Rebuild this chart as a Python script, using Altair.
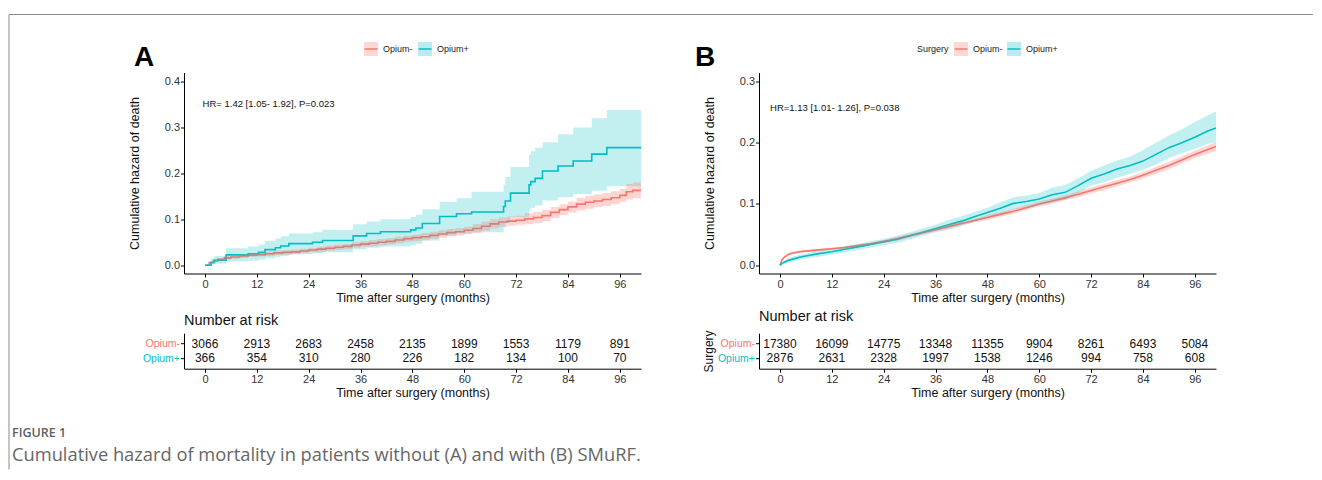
import altair as alt
import pandas as pd

RED = "#F8766D"
CYAN = "#00BFC4"
FONT = "Liberation Sans"
GROUPS = ["Opium-", "Opium+"]
RISK_TIMES = [0, 12, 24, 36, 48, 60, 72, 84, 96]

# ---------------- Panel A (without SMuRF) ----------------
a_neg_t = [0, 1, 2, 3, 4.5, 6, 8, 10, 12, 14, 16, 18, 20, 22, 24, 26, 28, 30, 32, 34, 36, 38, 40, 42, 44, 46,
           48, 50, 52, 54, 56, 58, 60, 62, 64, 66, 68, 70, 72, 74, 76, 78, 80, 82, 84, 86, 88, 90, 92, 94, 96,
           97.5, 99, 100.9]
a_neg_v = [0, 0.006, 0.010, 0.013, 0.016, 0.018, 0.020, 0.022, 0.023, 0.025, 0.027, 0.028, 0.029, 0.031, 0.033,
           0.035, 0.037, 0.039, 0.041, 0.044, 0.046, 0.048, 0.050, 0.052, 0.055, 0.058, 0.060, 0.062, 0.065, 0.068,
           0.071, 0.073, 0.076, 0.080, 0.085, 0.090, 0.094, 0.096, 0.098, 0.101, 0.104, 0.108, 0.115, 0.121, 0.127,
           0.133, 0.137, 0.140, 0.143, 0.147, 0.152, 0.160, 0.163, 0.163]
a_neg_lo = [0, 0.004, 0.007, 0.010, 0.012, 0.014, 0.016, 0.018, 0.019, 0.020, 0.022, 0.023, 0.024, 0.026, 0.028,
            0.029, 0.031, 0.033, 0.035, 0.038, 0.040, 0.041, 0.043, 0.045, 0.048, 0.051, 0.053, 0.054, 0.057, 0.060,
            0.063, 0.065, 0.068, 0.070, 0.075, 0.080, 0.084, 0.086, 0.088, 0.089, 0.092, 0.096, 0.103, 0.109, 0.115,
            0.119, 0.123, 0.126, 0.129, 0.133, 0.138, 0.143, 0.146, 0.146]
a_neg_up = [0, 0.008, 0.013, 0.016, 0.020, 0.022, 0.024, 0.026, 0.027, 0.030, 0.032, 0.033, 0.034, 0.036, 0.038,
            0.041, 0.043, 0.045, 0.047, 0.050, 0.052, 0.055, 0.057, 0.059, 0.062, 0.065, 0.067, 0.070, 0.073, 0.076,
            0.079, 0.081, 0.084, 0.090, 0.095, 0.100, 0.104, 0.106, 0.108, 0.113, 0.116, 0.120, 0.127, 0.133, 0.139,
            0.147, 0.151, 0.154, 0.157, 0.161, 0.166, 0.177, 0.180, 0.180]

a_pos_t = [0, 1.4, 2.2, 4.9, 10.0, 12.4, 13.9, 16.3, 17.5, 19.4, 24.9, 27.2, 34.3, 37.4, 40.6, 47.6, 48.8, 50.3,
           54.3, 58.2, 61.7, 69.1, 69.5, 70.7, 75.0, 75.4, 76.4, 78.1, 81.7, 85.2, 89.5, 93.0, 100.9]
a_pos_v = [0, 0.006, 0.011, 0.0225, 0.025, 0.028, 0.034, 0.038, 0.042, 0.047, 0.050, 0.054, 0.064, 0.069, 0.073,
           0.077, 0.081, 0.091, 0.106, 0.112, 0.116, 0.128, 0.140, 0.157, 0.175, 0.182, 0.189, 0.205, 0.216, 0.227,
           0.242, 0.256, 0.256]
a_pos_lo = [0, 0.001, 0.003, 0.008, 0.010, 0.012, 0.015, 0.018, 0.020, 0.024, 0.026, 0.028, 0.035, 0.038, 0.041,
            0.044, 0.047, 0.054, 0.065, 0.069, 0.072, 0.082, 0.092, 0.105, 0.120, 0.125, 0.130, 0.141, 0.148, 0.155,
            0.162, 0.172, 0.172]
a_pos_up = [0, 0.014, 0.020, 0.037, 0.041, 0.045, 0.053, 0.058, 0.063, 0.069, 0.072, 0.077, 0.089, 0.095, 0.100,
            0.105, 0.110, 0.122, 0.138, 0.146, 0.160, 0.176, 0.192, 0.214, 0.240, 0.248, 0.256, 0.268, 0.285, 0.300,
            0.320, 0.338, 0.338]

a_risk_neg = [3066, 2913, 2683, 2458, 2135, 1899, 1553, 1179, 891]
a_risk_pos = [366, 354, 310, 280, 226, 182, 134, 100, 70]
a_hr = "HR= 1.42 [1.05- 1.92], P=0.023"

# ---------------- Panel B (with SMuRF) ----------------
b_t = [0, 0.5, 1, 2, 3, 4.5, 6, 9, 12, 15, 18, 21, 24, 27, 30, 33, 36, 39, 42, 45, 48, 51, 54, 57, 60, 63, 66,
       69, 72, 75, 78, 81, 84, 87, 90, 93, 96, 99, 100.9]
b_neg_v = [0, 0.009, 0.013, 0.018, 0.020, 0.022, 0.023, 0.025, 0.027, 0.029, 0.032, 0.035, 0.039, 0.043, 0.048,
           0.053, 0.058, 0.063, 0.068, 0.073, 0.078, 0.083, 0.088, 0.094, 0.100, 0.105, 0.110, 0.116, 0.122, 0.128,
           0.134, 0.140, 0.147, 0.155, 0.163, 0.172, 0.181, 0.189, 0.194]
b_neg_lo = [0, 0.008, 0.012, 0.016, 0.018, 0.020, 0.021, 0.023, 0.025, 0.027, 0.030, 0.033, 0.037, 0.040, 0.045,
            0.050, 0.055, 0.060, 0.065, 0.070, 0.074, 0.079, 0.084, 0.090, 0.096, 0.101, 0.106, 0.111, 0.117, 0.123,
            0.129, 0.135, 0.142, 0.149, 0.157, 0.166, 0.175, 0.182, 0.187]
b_neg_up = [0, 0.010, 0.014, 0.020, 0.022, 0.024, 0.025, 0.027, 0.029, 0.031, 0.034, 0.037, 0.041, 0.046, 0.051,
            0.056, 0.061, 0.066, 0.071, 0.076, 0.082, 0.087, 0.092, 0.098, 0.104, 0.109, 0.114, 0.121, 0.127, 0.133,
            0.139, 0.145, 0.152, 0.161, 0.169, 0.178, 0.187, 0.196, 0.201]
b_pos_v = [0, 0.003, 0.005, 0.008, 0.010, 0.013, 0.015, 0.019, 0.022, 0.026, 0.030, 0.034, 0.038, 0.042, 0.048,
           0.054, 0.060, 0.066, 0.072, 0.079, 0.086, 0.093, 0.101, 0.104, 0.108, 0.115, 0.119, 0.130, 0.142, 0.149,
           0.157, 0.163, 0.170, 0.181, 0.192, 0.200, 0.209, 0.219, 0.224]
b_pos_lo = [0, 0.001, 0.002, 0.004, 0.006, 0.009, 0.011, 0.014, 0.017, 0.021, 0.025, 0.029, 0.033, 0.036, 0.042,
            0.048, 0.054, 0.058, 0.064, 0.071, 0.078, 0.083, 0.091, 0.094, 0.098, 0.103, 0.107, 0.118, 0.130, 0.135,
            0.143, 0.149, 0.156, 0.164, 0.175, 0.183, 0.190, 0.198, 0.201]
b_pos_up = [0, 0.005, 0.008, 0.012, 0.014, 0.017, 0.019, 0.024, 0.027, 0.031, 0.035, 0.039, 0.043, 0.048, 0.054,
            0.060, 0.066, 0.074, 0.080, 0.087, 0.094, 0.103, 0.111, 0.114, 0.118, 0.127, 0.131, 0.142, 0.154, 0.163,
            0.171, 0.177, 0.188, 0.200, 0.212, 0.222, 0.234, 0.245, 0.251]

b_risk_neg = [17380, 16099, 14775, 13348, 11355, 9904, 8261, 6493, 5084]
b_risk_pos = [2876, 2631, 2328, 1997, 1538, 1246, 994, 758, 608]
b_hr = "HR=1.13 [1.01- 1.26], P=0.038"

caption_head = "FIGURE 1"
caption_text = "Cumulative hazard of mortality in patients without (A) and with (B) SMuRF."

# ---------------- layout constants ----------------
W = 457
H_TOP = 201
H_TAB = 35.5
XDOM = [-4.85, 100.9]
ONE = pd.DataFrame({"k": [0]})


def curves_df(t_neg, v_neg, lo_neg, up_neg, t_pos, v_pos, lo_pos, up_pos):
    d1 = pd.DataFrame({"t": t_neg, "v": v_neg, "lo": lo_neg, "up": up_neg, "group": "Opium-"})
    d2 = pd.DataFrame({"t": t_pos, "v": v_pos, "lo": lo_pos, "up": up_pos, "group": "Opium+"})
    return pd.concat([d1, d2], ignore_index=True)


def x_enc(title):
    return alt.X("t:Q", scale=alt.Scale(domain=XDOM, nice=False, zero=False),
                 axis=alt.Axis(values=RISK_TIMES, title=title, titlePadding=2.5))


def y_enc(field, ydom, yvals):
    return alt.Y(f"{field}:Q", scale=alt.Scale(domain=ydom, nice=False, zero=False),
                 axis=alt.Axis(values=yvals, format=".1f", title="Cumulative hazard of death",
                               titlePadding=23))


def legend_layers(x_neg, x_pos, title_x=None):
    layers = []
    if title_x is not None:
        layers.append(alt.Chart(ONE).mark_text(text="Surgery", align="left", baseline="middle", fontSize=9,
                                               font=FONT, color="#222")
                      .encode(x=alt.value(title_x), y=alt.value(-23.5)))
    for xb, col, lab in [(x_neg, RED, "Opium-"), (x_pos, CYAN, "Opium+")]:
        layers.append(alt.Chart(ONE).mark_rect(color=col, opacity=0.28)
                      .encode(x=alt.value(xb), x2=alt.value(xb + 14), y=alt.value(-30.5), y2=alt.value(-16.5)))
        layers.append(alt.Chart(ONE).mark_rule(color=col, strokeWidth=1.5)
                      .encode(x=alt.value(xb + 0.5), x2=alt.value(xb + 13.5), y=alt.value(-23.5)))
        layers.append(alt.Chart(ONE).mark_text(text=lab, align="left", baseline="middle", fontSize=9,
                                               font=FONT, color="#222")
                      .encode(x=alt.value(xb + 19), y=alt.value(-23.5)))
    return layers


def hazard_panel(df, interp, ydom, yvals, hr, hr_x, hr_y, letter, letter_x, leg, extra=None):
    X = x_enc("Time after surgery (months)")
    lines = alt.Chart(df).mark_line(interpolate=interp, strokeWidth=1.6).encode(
        x=X, y=y_enc("v", ydom, yvals),
        color=alt.Color("group:N", scale=alt.Scale(domain=GROUPS, range=[RED, CYAN]), legend=None))
    band_pos = alt.Chart(df).transform_filter(alt.datum.group == "Opium+").mark_area(
        interpolate=interp, color=CYAN, opacity=0.24).encode(
        x=X, y=y_enc("lo", ydom, yvals), y2="up:Q")
    band_neg = alt.Chart(df).transform_filter(alt.datum.group == "Opium-").mark_area(
        interpolate=interp, color=RED, opacity=0.3).encode(
        x=X, y=y_enc("lo", ydom, yvals), y2="up:Q")
    hr_df = pd.DataFrame({"t": [hr_x], "v": [hr_y], "label": [hr]})
    hr_text = alt.Chart(hr_df).mark_text(align="left", baseline="middle", fontSize=9.5, font=FONT,
                                         color="#111").encode(
        x=X, y=y_enc("v", ydom, yvals), text="label:N")
    letter_text = alt.Chart(ONE).mark_text(text=letter, fontSize=28, fontWeight="bold", font=FONT,
                                           align="center", baseline="middle", color="#000").encode(
        x=alt.value(letter_x), y=alt.value(-15))
    layers = [lines, band_pos, band_neg, hr_text, letter_text] + leg
    if extra:
        layers += extra
    return alt.layer(*layers).properties(width=W, height=H_TOP)


def risk_table(neg, pos, ytitle, extra=None):
    df = pd.DataFrame({
        "t": RISK_TIMES * 2,
        "group": ["Opium-"] * len(neg) + ["Opium+"] * len(pos),
        "n": neg + pos,
    })
    yaxis = alt.Axis(title=ytitle, titlePadding=2, titleFontSize=12,
                     labelFontSize=10.5,
                     labelColor={"condition": {"test": "datum.value == 'Opium-'", "value": RED},
                                 "value": CYAN})
    txt = alt.Chart(df).mark_text(fontSize=12, font=FONT, color="#111", baseline="middle").encode(
        x=x_enc("Time after surgery (months)"),
        y=alt.Y("group:N", scale=alt.Scale(domain=GROUPS, padding=0.72), axis=yaxis),
        text=alt.Text("n:Q", format="d"))
    layers = [txt]
    if extra:
        layers += extra
    return alt.layer(*layers).properties(
        width=W, height=H_TAB,
        title=alt.TitleParams("Number at risk", anchor="start", frame="group", fontSize=14.5,
                              fontWeight="normal", font=FONT, color="#111", offset=5))


df_a = curves_df(a_neg_t, a_neg_v, a_neg_lo, a_neg_up, a_pos_t, a_pos_v, a_pos_lo, a_pos_up)
df_b = curves_df(b_t, b_neg_v, b_neg_lo, b_neg_up, b_t, b_pos_v, b_pos_lo, b_pos_up)

frame = [
    alt.Chart(ONE).mark_rule(color="#8a8a8a", strokeWidth=1).encode(
        x=alt.value(-175), x2=alt.value(1129), y=alt.value(-58)),
    alt.Chart(ONE).mark_rule(color="#8a8a8a", strokeWidth=1).encode(
        x=alt.value(-175), y=alt.value(-58), y2=alt.value(397)),
]

caption = [
    alt.Chart(ONE).mark_text(text=caption_head, align="left", baseline="middle", fontSize=12.5,
                             font="Open Sans", fontWeight=600, color="#5f5f5f").encode(
        x=alt.value(-172), y=alt.value(100)),
    alt.Chart(ONE).mark_text(text=caption_text, align="left", baseline="middle", fontSize=18.3,
                             font="Open Sans", color="#666666").encode(
        x=alt.value(-172), y=alt.value(123)),
]

a_top = hazard_panel(df_a, "step-after", [-0.018, 0.4196], [0, 0.1, 0.2, 0.3, 0.4], a_hr, -0.55, 0.35,
                     "A", -40, legend_layers(180, 234), extra=frame)
b_top = hazard_panel(df_b, "linear", [-0.0135, 0.3147], [0, 0.1, 0.2, 0.3], b_hr, -2.3, 0.257,
                     "B", -54, legend_layers(195, 248, title_x=158))
a_tab = risk_table(a_risk_neg, a_risk_pos, None, extra=caption)
b_tab = risk_table(b_risk_neg, b_risk_pos, "Surgery")

chart = alt.concat(a_top, b_top, a_tab, b_tab, columns=2, bounds="flush", align="each",
                   spacing={"row": 59.7, "column": 118}).properties(
    padding={"left": 0, "top": 5.5, "right": 0, "bottom": 0}, background="white"
).configure_view(stroke=None).configure_axis(
    grid=False, domainColor="#000", tickColor="#000", domainWidth=1, tickWidth=1, tickSize=3.5,
    labelFont=FONT, labelFontSize=11, labelColor="#333", labelPadding=1,
    titleFont=FONT, titleFontSize=12.5, titleFontWeight="normal", titleColor="#111")

chart.save("out.html", embed_options={"renderer": "svg", "actions": False})
